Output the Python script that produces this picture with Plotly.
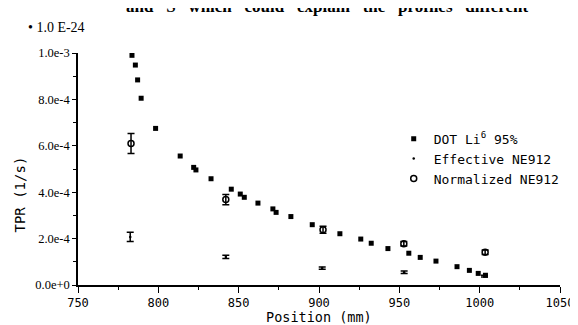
import plotly.graph_objects as go

# DOT Li6 95%
dot_x = [783.6, 785.7, 787.1, 789.3, 798.3, 813.6, 822.0, 823.4, 832.8, 845.4,
         851.0, 853.5, 862.0, 871.3, 873.3, 882.5, 895.8, 913.0, 926.0, 932.5,
         942.9, 955.9, 963.0, 972.8, 985.9, 993.6, 999.1, 1003.6]
dot_y = [9.90e-4, 9.48e-4, 8.84e-4, 8.05e-4, 6.75e-4, 5.56e-4, 5.07e-4, 4.96e-4, 4.58e-4, 4.13e-4,
         3.92e-4, 3.78e-4, 3.53e-4, 3.28e-4, 3.13e-4, 2.95e-4, 2.60e-4, 2.21e-4, 1.98e-4, 1.80e-4,
         1.57e-4, 1.37e-4, 1.19e-4, 1.03e-4, 0.79e-4, 0.63e-4, 0.50e-4, 0.42e-4]

# Effective NE912
eff_x = [782.5, 842.0, 902.0, 953.0, 1003.0]
eff_y = [2.07e-4, 1.21e-4, 0.73e-4, 0.55e-4, 0.38e-4]
eff_err = [0.20e-4, 0.07e-4, 0.05e-4, 0.05e-4, 0.04e-4]

# Normalized NE912
norm_x = [783.0, 842.0, 902.5, 952.8, 1003.4]
norm_y = [6.10e-4, 3.68e-4, 2.38e-4, 1.78e-4, 1.41e-4]
norm_err = [0.43e-4, 0.22e-4, 0.15e-4, 0.10e-4, 0.10e-4]

y_tickvals = [0, 2e-4, 4e-4, 6e-4, 8e-4, 1e-3]
y_ticktext = ["0.0e+0", "2.0e-4", "4.0e-4", "6.0e-4", "8.0e-4", "1.0e-3"]
x_tickvals = [750, 800, 850, 900, 950, 1000, 1050]

MONO = "DejaVu Sans Mono"
SERIF = "Liberation Serif"

fig = go.Figure()
fig.add_trace(go.Scatter(
    x=dot_x, y=dot_y, mode="markers", name="DOT Li<sup>6</sup> 95%",
    marker=dict(symbol="square", size=5, color="black"),
))
fig.add_trace(go.Scatter(
    x=eff_x, y=eff_y, mode="markers", name="Effective NE912",
    marker=dict(symbol="circle", size=2.5, color="black"),
    error_y=dict(type="data", array=eff_err, color="black", thickness=1.5, width=3.5),
))
fig.add_trace(go.Scatter(
    x=norm_x, y=norm_y, mode="markers", name="Normalized NE912",
    marker=dict(symbol="circle-open", size=6, color="black", line=dict(width=1.5, color="black")),
    error_y=dict(type="data", array=norm_err, color="black", thickness=1.5, width=3.5),
))

fig.update_layout(
    width=578, height=325,
    margin=dict(l=70, r=17, t=45, b=48),
    paper_bgcolor="white", plot_bgcolor="white",
    showlegend=True,
    legend=dict(
        x=0.655, y=0.695, xanchor="left", yanchor="top",
        font=dict(family=MONO, size=13, color="black"),
        bgcolor="rgba(0,0,0,0)", tracegroupgap=0, itemsizing="trace",
    ),
    xaxis=dict(
        range=[750, 1050], showgrid=False, zeroline=False,
        showline=True, linecolor="black", linewidth=1.5,
        ticks="outside", ticklen=6, tickwidth=1.2, tickcolor="black",
        tickvals=x_tickvals,
        tickfont=dict(family=MONO, size=12, color="black"),
        minor=dict(ticks="outside", ticklen=3, tickwidth=1, tickcolor="black", dtick=25, tick0=750),
    ),
    yaxis=dict(
        range=[0, 1e-3], showgrid=False, zeroline=False,
        showline=True, linecolor="black", linewidth=1.5,
        ticks="outside", ticklen=4, tickwidth=1.2, tickcolor="black",
        tickvals=y_tickvals, ticktext=y_ticktext,
        tickfont=dict(family=SERIF, size=12.5, color="black"),
        minor=dict(ticks="outside", ticklen=3, tickwidth=1, tickcolor="black", dtick=1e-4, tick0=0),
    ),
    annotations=[
        dict(text="Position (mm)", xref="paper", yref="paper", x=0.5, y=0,
             yshift=-32, xanchor="center", yanchor="middle", showarrow=False,
             font=dict(family=MONO, size=13.5, color="black")),
        dict(text="TPR (1/s)", xref="paper", yref="paper", x=0, y=0.39,
             xshift=-58, xanchor="center", yanchor="middle", showarrow=False, textangle=-90,
             font=dict(family=MONO, size=14, color="black")),
        dict(text="\u2022 1.0 E-24", xref="paper", yref="paper", x=0, y=1,
             xshift=-52, yshift=26, xanchor="left", yanchor="middle", showarrow=False,
             font=dict(family=SERIF, size=14, color="black")),
        dict(text="<b>and   S   which   could   explain   the   profiles   different</b>",
             xref="paper", yref="paper", x=0.5, y=1, xshift=8, yshift=47,
             xanchor="center", yanchor="middle", showarrow=False,
             font=dict(family=SERIF, size=17, color="black")),
    ],
)

fig.write_html("out.html")
